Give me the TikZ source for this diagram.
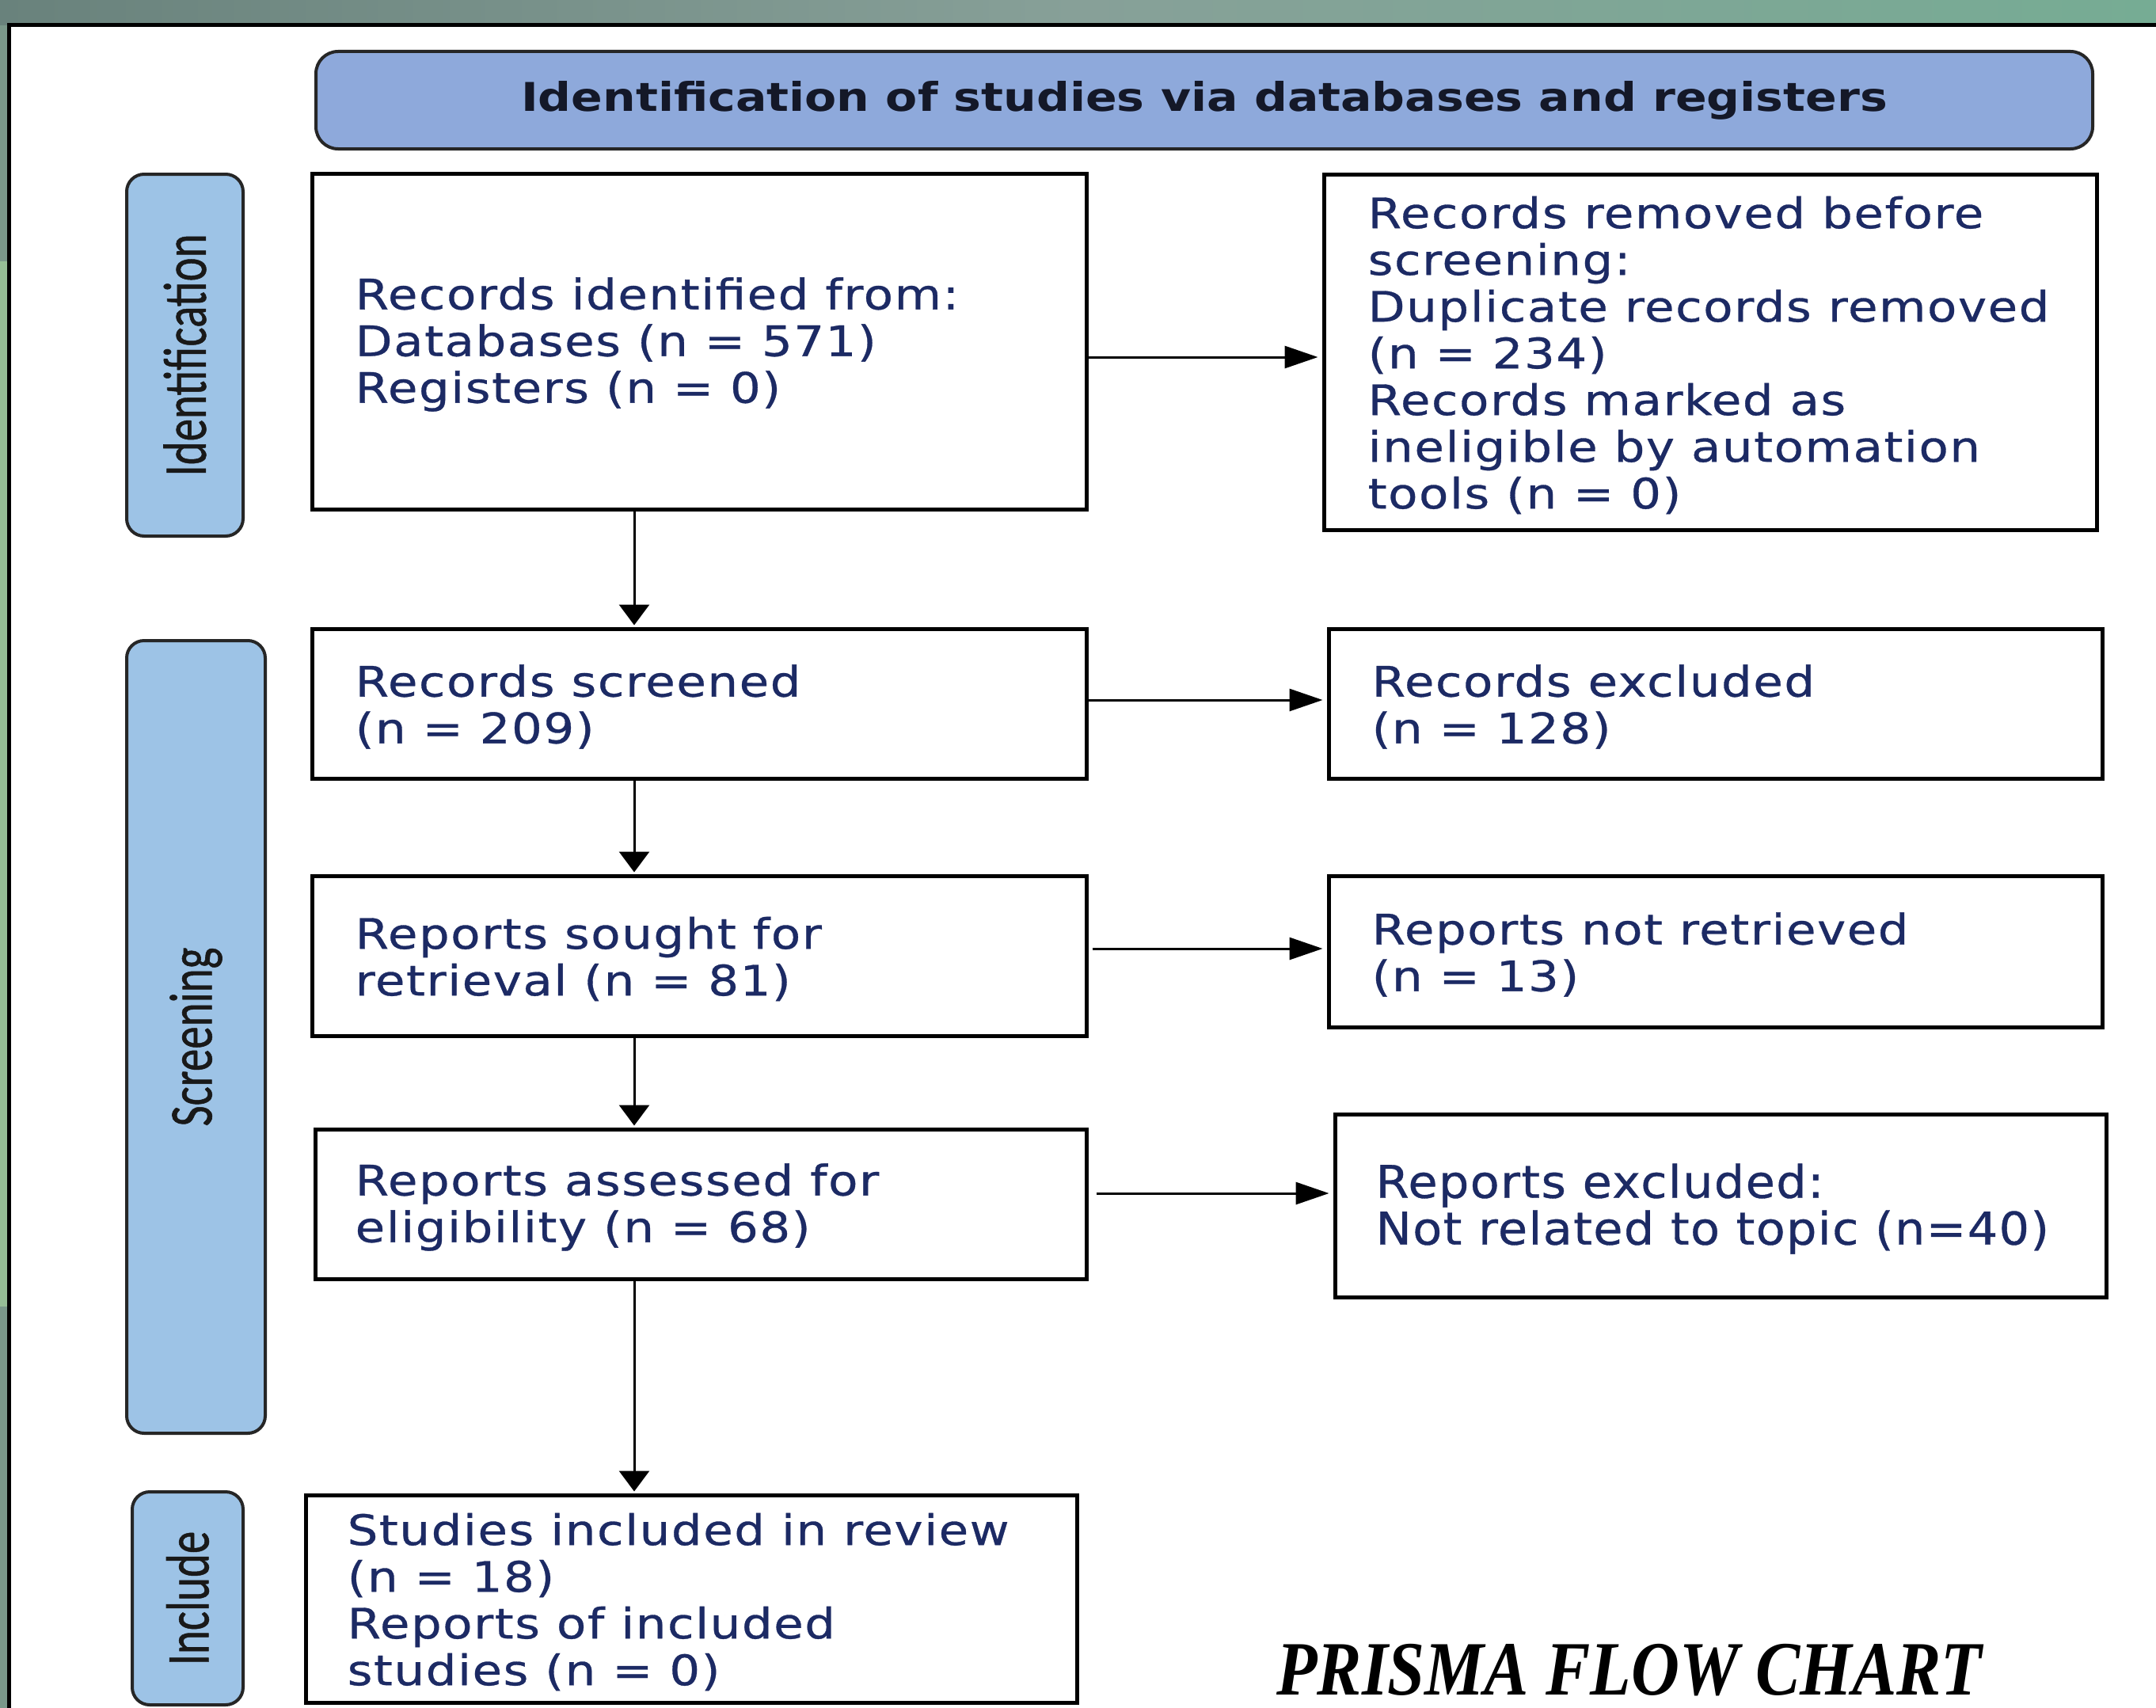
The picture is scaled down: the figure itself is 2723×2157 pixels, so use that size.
\documentclass[tikz,border=0pt]{standalone}
\usepackage{fontspec}
\usetikzlibrary{arrows.meta}
\newfontfamily\boxfont[FakeStretch=1.15,LetterSpace=3,FakeBold=0.6]{DejaVu Sans}
\newfontfamily\exfont[FakeStretch=1.06,LetterSpace=2.5,FakeBold=0.6]{DejaVu Sans}
\newfontfamily\headfont[FakeStretch=1.17]{DejaVu Sans}
\newfontfamily\sidefont[FakeBold=0.8]{Carlito}
\newfontfamily\prismafont[FakeStretch=0.87]{Liberation Serif}
\definecolor{headblue}{RGB}{142,169,219}
\definecolor{sideblue}{RGB}{157,195,230}
\definecolor{txtblue}{RGB}{28,42,100}
\definecolor{headtxt}{RGB}{20,24,40}
\definecolor{bgcol}{RGB}{122,152,138}
\definecolor{bgleft}{RGB}{150,190,150}
\definecolor{bgtopa}{RGB}{105,130,124}
\definecolor{bgtopb}{RGB}{135,160,152}
\definecolor{bgtopc}{RGB}{118,172,148}
\begin{document}
\begin{tikzpicture}[x=1pt,y=-1pt,
  box/.style={draw=black, line width=5pt, fill=white, inner sep=0pt},
  txt/.style={align=left, inner sep=0pt, anchor=west, text=txtblue, yshift=-4pt,
    font=\boxfont\fontsize{53}{59}\selectfont},
  side/.style={draw=black!85, line width=4pt, rounded corners=22pt, fill=sideblue,
    rotate=90, inner sep=0pt, text=black!90, font=\sidefont\fontsize{57}{60}\selectfont},
  harr/.style={line width=3pt, -{Triangle[length=42pt,width=28pt]}, shorten >=5pt},
  varr/.style={line width=3pt, -{Triangle[length=26pt,width=38pt]}, shorten >=2pt}]
\useasboundingbox (0,0) rectangle (2723,2157);
\clip (0,0) rectangle (2723,2157);
% background
\fill[bgcol] (0,0) rectangle (2723,2157);
\fill[bgleft] (0,330) rectangle (12,1650);
\shade[left color=bgtopa, right color=bgtopc, middle color=bgtopb] (0,0) rectangle (2723,32);
\draw[line width=5pt, fill=white] (11,32) rectangle (2780,2220);
% header
\node[draw=black!85, line width=4pt, rounded corners=28pt, fill=headblue,
  minimum width=2244pt, minimum height=123pt, inner sep=0pt, text=headtxt,
  font=\headfont\bfseries\fontsize{50}{60}\selectfont] (head) at (1521,126.5)
  {Identification of studies via databases and registers};
% side labels
\node[side, minimum width=457pt, minimum height=147pt] (sid) at (233.5,448.5)
  {\scalebox{1}[1.35]{Identification}};
\node[side, minimum width=1001pt, minimum height=175pt] (sscr) at (247.5,1309.5)
  {\scalebox{1}[1.35]{Screening}};
\node[side, minimum width=269pt, minimum height=140pt] (sinc) at (237,2018.5)
  {\scalebox{1}[1.35]{Include}};
% boxes
\node[box, minimum width=978pt, minimum height=424pt] (b1) at (883,431) {};
\node[box, minimum width=976pt, minimum height=449pt] (b2) at (2160,444.5) {};
\node[box, minimum width=978pt, minimum height=189pt] (b3) at (883,888.5) {};
\node[box, minimum width=977pt, minimum height=189pt] (b4) at (2166.5,888.5) {};
\node[box, minimum width=978pt, minimum height=202pt] (b5) at (883,1207) {};
\node[box, minimum width=977pt, minimum height=191pt] (b6) at (2166.5,1201.5) {};
\node[box, minimum width=974pt, minimum height=189pt] (b7) at (885,1520.5) {};
\node[box, minimum width=974pt, minimum height=231pt] (b8) at (2173,1522.5) {};
\node[box, minimum width=974pt, minimum height=262pt] (b9) at (873,2019) {};
% texts
\node[txt] (t1) at ([xshift=57pt]b1.west) {Records identified from:\\Databases (n = 571)\\Registers (n = 0)};
\node[txt] (t2) at ([xshift=58pt]b2.west) {Records removed before\\screening:\\Duplicate records removed\\(n = 234)\\Records marked as\\ineligible by automation\\tools (n = 0)};
\node[txt] (t3) at ([xshift=57pt]b3.west) {Records screened\\(n = 209)};
\node[txt] (t4) at ([xshift=57pt]b4.west) {Records excluded\\(n = 128)};
\node[txt] (t5) at ([xshift=57pt]b5.west) {Reports sought for\\retrieval (n = 81)};
\node[txt] (t6) at ([xshift=57pt]b6.west) {Reports not retrieved\\(n = 13)};
\node[txt] (t7) at ([xshift=53pt]b7.west) {Reports assessed for\\eligibility (n = 68)};
\node[txt, font=\exfont\fontsize{57}{59}\selectfont] (t8) at ([xshift=54pt]b8.west) {Reports excluded:\\Not related to topic (n=40)};
\node[txt] (t9) at ([xshift=55pt]b9.west) {Studies included in review\\(n = 18)\\Reports of included\\studies (n = 0)};
% arrows
\draw[harr] (b1.east |- 0,451) -- (b2.west |- 0,451);
\draw[harr] (b3.east |- 0,884) -- (b4.west |- 0,884);
\draw[harr, shorten <=5pt] (b5.east |- 0,1198) -- (b6.west |- 0,1198);
\draw[harr, shorten <=10pt] (b7.east |- 0,1507) -- (b8.west |- 0,1507);
\draw[varr] (b1.south -| 801,0) -- (b3.north -| 801,0);
\draw[varr] (b3.south -| 801,0) -- (b5.north -| 801,0);
\draw[varr] (b5.south -| 801,0) -- (b7.north -| 801,0);
\draw[varr] (b7.south -| 801,0) -- (b9.north -| 801,0);
% title
\node[anchor=base west, inner sep=0pt,
  font=\prismafont\bfseries\itshape\fontsize{97}{100}\selectfont] (prisma) at (1612,2140)
  {PRISMA FLOW CHART};
\end{tikzpicture}
\end{document}
